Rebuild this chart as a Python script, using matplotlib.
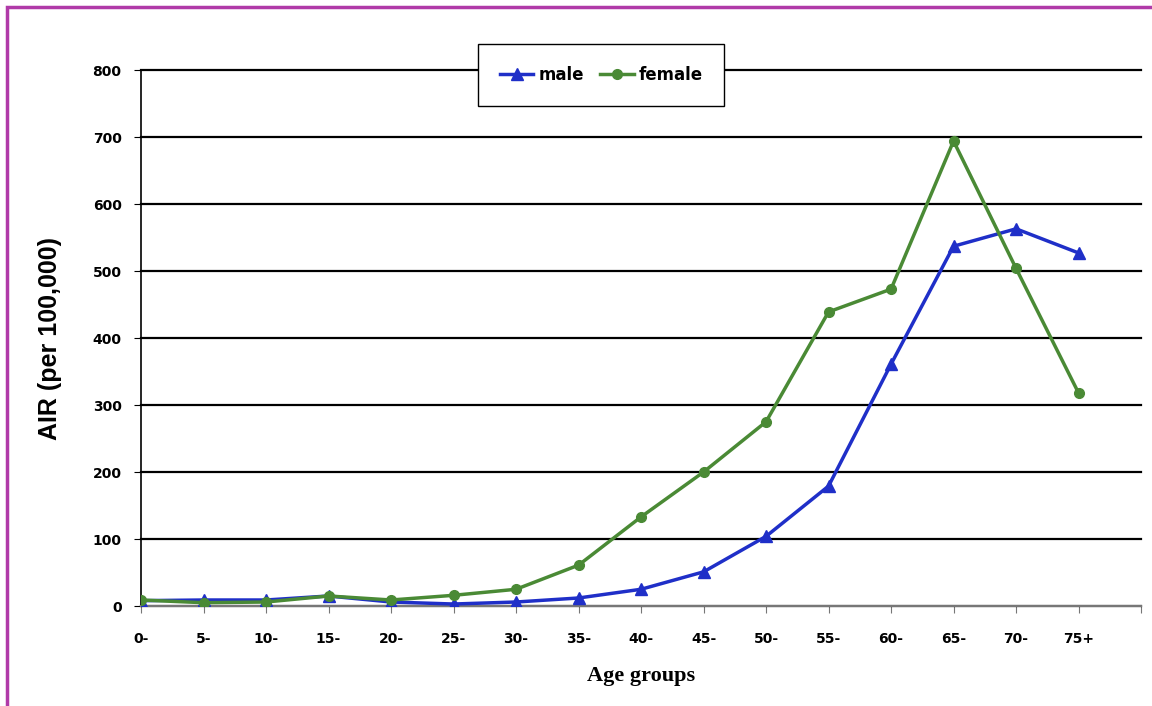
import matplotlib
matplotlib.use("Agg")
import matplotlib.pyplot as plt
from matplotlib.patches import Rectangle

# data
age_groups = ["0-", "5-", "10-", "15-", "20-", "25-", "30-", "35-",
              "40-", "45-", "50-", "55-", "60-", "65-", "70-", "75+"]
male = [8, 9, 9, 15, 6, 3, 6, 12, 25, 51, 104, 179, 361, 537, 563, 527]
female = [9, 5, 6, 15, 9, 16, 25, 61, 133, 200, 275, 439, 473, 694, 504, 318]
y_ticks = [0, 100, 200, 300, 400, 500, 600, 700, 800]

fig = plt.figure(figsize=(11.52, 7.06), dpi=100)
ax = fig.add_axes([0.1224, 0.1416, 0.8681, 0.7592])

# magenta frame round the whole chart
fig.patches.append(Rectangle((0.006, -0.01), 1.1, 1.0, transform=fig.transFigure,
                             fill=False, edgecolor="#b03aa8", linewidth=2.5))

x = list(range(len(age_groups)))
ax.plot(x, male, color="#1f2fc8", linewidth=2.5, marker="^", markersize=8, label="male", zorder=3)
ax.plot(x, female, color="#4a8a35", linewidth=2.5, marker="o", markersize=7, label="female", zorder=4)

ax.set_xlim(0, 16)
ax.set_ylim(0, 800)
ax.set_yticks(y_ticks)
ax.set_yticklabels([str(v) for v in y_ticks], fontsize=10, fontweight="bold", family="DejaVu Sans")
ax.set_xticks(range(17))
ax.set_xticklabels(age_groups + [""], fontsize=10, fontweight="bold", family="DejaVu Sans")
ax.tick_params(axis="x", length=5, color="#777777", pad=14)
ax.tick_params(axis="y", length=5, color="black", pad=9)

ax.grid(axis="y", color="black", linewidth=1.6)
for gl in ax.get_ygridlines():
    gl.set_clip_on(False)
ax.set_axisbelow(True)
for side in ["top", "right"]:
    ax.spines[side].set_visible(False)
ax.spines["left"].set_linewidth(1.2)
ax.spines["bottom"].set_color("#777777")
ax.spines["bottom"].set_linewidth(1.5)

ax.set_ylabel("AIR (per 100,000)", fontsize=18, fontweight="bold", family="Liberation Sans", labelpad=22)
ax.set_xlabel("Age groups", fontsize=16, fontweight="bold", family="Liberation Serif", labelpad=14)

leg = fig.legend(loc="center", bbox_to_anchor=(0.522, 0.894), ncol=2, frameon=True, fancybox=False,
                 edgecolor="black", framealpha=1, borderpad=1.3, handlelength=2.0,
                 columnspacing=1.0, handletextpad=0.3,
                 prop={"family": "DejaVu Sans", "weight": "bold", "size": 12})
leg.get_frame().set_linewidth(1.0)
leg.set_zorder(5)

fig.savefig("out.png", dpi=100)
